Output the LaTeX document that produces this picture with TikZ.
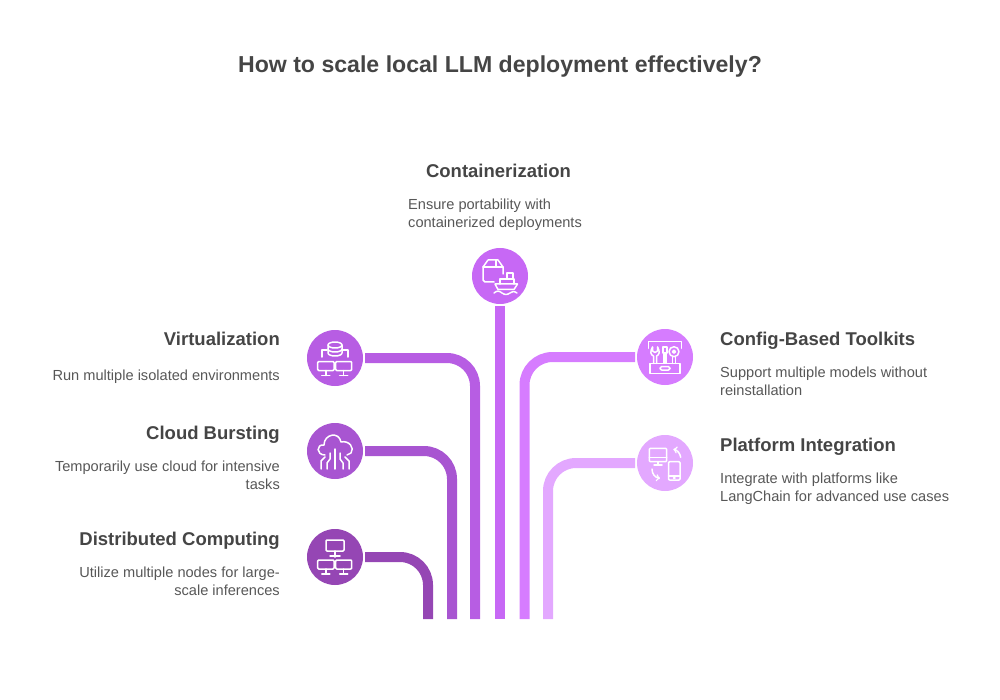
\documentclass[tikz,border=0pt]{standalone}
\usepackage{fontspec}
\setmainfont{Liberation Sans}
\usepackage{tikz}

\definecolor{headcol}{HTML}{454545}
\definecolor{bodycol}{HTML}{575757}
\definecolor{contcol}{HTML}{C768F5}
\definecolor{virtcol}{HTML}{B75DE3}
\definecolor{cloudcol}{HTML}{A855D1}
\definecolor{distcol}{HTML}{9546B4}
\definecolor{confcol}{HTML}{D67CFF}
\definecolor{platcol}{HTML}{E3A8FF}

% small monitor, x range and top y given
\newcommand{\screenicon}[3]{
  \draw[rounded corners=1pt] (#1,#3) rectangle (#2,#3+9);
  \draw ({(#1+#2)/2},#3+9) -- ({(#1+#2)/2},#3+14);
  \draw ({(#1+#2)/2-4},#3+14) -- ({(#1+#2)/2+4},#3+14);
}

\begin{document}
\begin{tikzpicture}[x=1pt,y=-1pt,
  main node/.style={circle,minimum size=56pt,inner sep=0pt,outer sep=2pt},
  head node/.style={text=headcol,inner sep=0pt,font=\fontsize{18.5}{22}\selectfont\bfseries},
  body node/.style={text=bodycol,inner sep=0pt,font=\fontsize{14.6}{18}\selectfont},
  link/.style={line width=10pt,rounded corners=28pt},
  icon/.style={white,line width=1.5pt,line join=round,line cap=round}]

  \useasboundingbox (0,0) rectangle (1000,700);

  \node[text=headcol,inner sep=0pt,anchor=base,font=\fontsize{23.1}{28}\selectfont\bfseries] (title) at (500,73)
    {How to scale local LLM deployment effectively?};

  \node[main node,fill=contcol] (cont) at (500,276) {};
  \node[main node,fill=virtcol] (virt) at (335,358) {};
  \node[main node,fill=cloudcol] (cloud) at (335,451) {};
  \node[main node,fill=distcol] (dist) at (335,557) {};
  \node[main node,fill=confcol] (conf) at (665,357) {};
  \node[main node,fill=platcol] (plat) at (665,463) {};

  \coordinate (contend) at (500,619);
  \coordinate (virtend) at (475,619);
  \coordinate (cloudend) at (452,619);
  \coordinate (distend) at (428,619);
  \coordinate (confend) at (524.5,619);
  \coordinate (platend) at (548,619);

  \draw[link,contcol] (cont.south) -- (contend);
  \draw[link,virtcol] (virt.east) -| (virtend);
  \draw[link,cloudcol] (cloud.east) -| (cloudend);
  \draw[link,distcol] (dist.east) -| (distend);
  \draw[link,confcol] (conf.west) -| (confend);
  \draw[link,platcol] (plat.west) -| (platend);

  % left texts
  \node[head node,anchor=base east] (virthead) at (280,345) {Virtualization};
  \node[body node,anchor=north east,align=right] (virtbody) at (280,370) {Run multiple isolated environments};
  \node[head node,anchor=base east] (cloudhead) at (280,439) {Cloud Bursting};
  \node[body node,anchor=north east,align=right] (cloudbody) at (280,461) {Temporarily use cloud for intensive\\tasks};
  \node[head node,anchor=base east] (disthead) at (280,545) {Distributed Computing};
  \node[body node,anchor=north east,align=right] (distbody) at (280,567) {Utilize multiple nodes for large-\\scale inferences};

  % right texts
  \node[head node,anchor=base west] (confhead) at (720,345) {Config-Based Toolkits};
  \node[body node,anchor=north west,align=left] (confbody) at (720,367) {Support multiple models without\\reinstallation};
  \node[head node,anchor=base west] (plathead) at (720,451) {Platform Integration};
  \node[body node,anchor=north west,align=left] (platbody) at (720,473) {Integrate with platforms like\\LangChain for advanced use cases};

  % top texts
  \node[head node,anchor=base] (conthead) at (498.5,178) {Containerization};
  \node[body node,anchor=north west,align=left] (contbody) at (408,199) {Ensure portability with\\containerized deployments};

  % icons
  \begin{scope}[shift={(cont)},icon]
    \draw (-6,6) -- (-15,6) to[out=180,in=90] (-17,4) -- (-17,-9) -- (-12,-16) -- (-2,-16) -- (3,-9) -- (3,-2);
    \draw (-17,-9) -- (3,-9);
    \draw (-4,-16) -- (-4,-9);
    \draw (-5,8) -- (17.5,8) -- (14,13.5) -- (-2,13.5) -- cycle;
    \draw (0,8) -- (0,3) -- (14,3) -- (14,8);
    \draw (7,3) -- (7,-3) -- (13,-3) -- (13,3);
    \draw (-6,17) .. controls (-3,14.5) and (-1,14.5) .. (2,17) .. controls (5,19) and (7,19) .. (10,17) .. controls (12,15) and (14,15) .. (17,17);
  \end{scope}

  \begin{scope}[shift={(virt)},icon]
    \draw (0,-13) ellipse (7 and 3);
    \draw (-7,-13) -- (-7,-5) arc[start angle=180,end angle=360,x radius=7,y radius=-3] -- (7,-13);
    \draw (-7,-9) arc[start angle=180,end angle=360,x radius=7,y radius=-3];
    \draw (-13,-1) -- (-13,-8) -- (-8,-8);
    \draw (13,-1) -- (13,-8) -- (8,-8);
    \screenicon{-17.3}{-1}{3.5}
    \screenicon{0.7}{16.7}{3.5}
  \end{scope}

  \begin{scope}[shift={(cloud)},icon]
    \draw (-10,4) .. controls (-19,4) and (-19,-7) .. (-11,-6) .. controls (-11,-17) and (4,-20) .. (6,-9) .. controls (14,-11) and (20,-3) .. (16,2) -- (12,4);
    \draw (0,-2) -- (0,18);
    \draw (-5,2) -- (-5,8) -- (-8,12) -- (-8,18);
    \draw (5,2) -- (5,8) -- (8,12) -- (8,18);
    \draw (-10,6) -- (-14,10) -- (-14,18);
    \draw (10,6) -- (14,10) -- (14,18);
  \end{scope}

  \begin{scope}[shift={(dist)},icon]
    \draw[rounded corners=1pt] (-9,-17) rectangle (9,-6);
    \draw (0,-6) -- (0,0);
    \draw (-5,-1) -- (5,-1);
    \screenicon{-17.3}{-1}{3}
    \screenicon{0.7}{16.7}{3}
  \end{scope}

  \begin{scope}[shift={(conf)},icon]
    \draw (-16.7,-8.7) -- (-16.7,-15.3) -- (16.7,-15.3) -- (16.7,-8.7);
    \draw (-15,6.3) rectangle (15,16.3);
    \draw[rounded corners=1.5pt] (-5,9.6) rectangle (5,13);
    \draw (-12.5,-10) .. controls (-15.5,-5) and (-14,-2) .. (-11.5,-1) -- (-11.5,6.3);
    \draw (-7.5,-10) .. controls (-4.5,-5) and (-6,-2) .. (-8.5,-1) -- (-8.5,6.3);
    \draw (-12.5,-10) -- (-12.5,-6) -- (-10,-4.5) -- (-7.5,-6) -- (-7.5,-10);
    \draw (-2,-10) rectangle (2,-4);
    \draw (-1.2,-4) rectangle (1.2,6.3);
    \draw (9,-5.3) circle (5);
    \draw (9,-5.3) circle (1.5);
    \draw (7.5,-0.5) -- (7.5,6.3);
    \draw (10.5,-0.5) -- (10.5,6.3);
  \end{scope}

  \begin{scope}[shift={(plat)},icon]
    \draw[rounded corners=1pt] (-15.7,-14.7) rectangle (1.7,-1.3);
    \draw (-15.7,-5.3) -- (1.7,-5.3);
    \draw (-7,-1.3) -- (-7,2);
    \draw (-11,2) -- (-3,2);
    \draw[rounded corners=1pt] (3.5,-1.3) rectangle (15,17);
    \draw (3.5,13) -- (15,13);
    \draw (8.5,15) -- (10,15);
    \draw[->] (15.7,-5.7) .. controls (15,-10) and (12,-13) .. (8.3,-13.7);
    \draw[->] (-13,6) .. controls (-13,11) and (-10,14.5) .. (-5,15.3);
  \end{scope}
\end{tikzpicture}
\end{document}
